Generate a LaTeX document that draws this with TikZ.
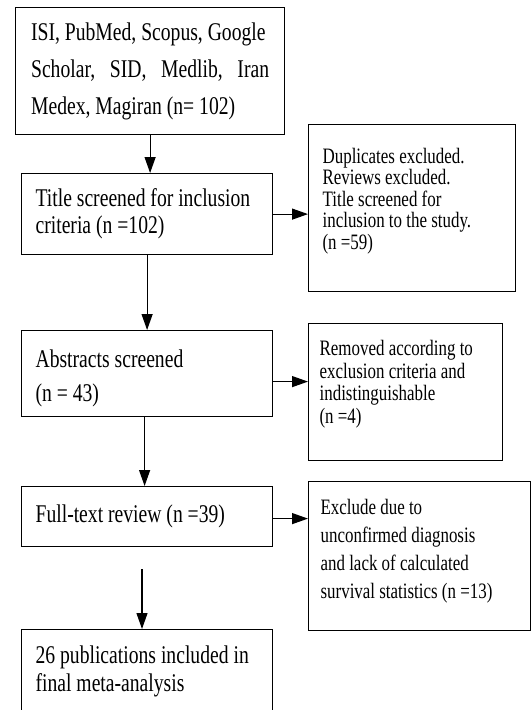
\documentclass[tikz,border=0pt]{standalone}
\usepackage{fontspec}
\setmainfont{Liberation Serif}[FakeStretch=0.77]
\usetikzlibrary{arrows.meta}
\hyphenpenalty=10000
\exhyphenpenalty=10000

\tikzset{
    stage/.style={draw, line width=1.2pt, anchor=north west, align=flush left,
        inner xsep=14pt, inner ysep=0pt, font=\fontsize{25.5}{27}\selectfont},
    note/.style={stage, font=\fontsize{22}{22.5}\selectfont},
    arr/.style={-{Triangle[width=11pt,length=16pt]}, line width=1.2pt}
}

\begin{document}
\begin{tikzpicture}[x=1pt, y=-1pt]

    \useasboundingbox (0,0) rectangle (531,710);

    % Main stages (left column)
    \node[stage, inner xsep=15.5pt, text width=238pt, minimum height=127pt,
        font=\fontsize{25.5}{37}\selectfont] (search) at (15,7)
        {ISI, PubMed, Scopus, Google\\
         Scholar,\hfill SID,\hfill Medlib,\hfill Iran\\
         Medex, Magiran (n= 102)};
    \node[stage, text width=223pt, minimum height=81pt] (title) at (21,173)
        {Title screened for inclusion\\criteria (n =102)};
    \node[stage, text width=223pt, minimum height=86pt, text height=27pt,
        font=\fontsize{25.5}{34}\selectfont] (abstr) at (21,330)
        {Abstracts screened\\(n = 43)};
    \node[stage, text width=223pt, minimum height=60pt] (full) at (21,486)
        {Full-text review (n =39)};
    \node[stage, text width=223pt, minimum height=84pt,
        font=\fontsize{25.5}{28}\selectfont] (final) at (21,629)
        {26 publications included in\\final meta-analysis};

    % Exclusions (right column)
    \node[note, text width=179pt, minimum height=167pt, text depth=105pt,
        font=\fontsize{22}{21.5}\selectfont] (dupl) at (308,124)
        {Duplicates excluded.\\Reviews excluded.\\Title screened for\\
         inclusion to the study.\\(n =59)};
    \node[note, inner xsep=11pt, text width=172pt, minimum height=137pt,
        text depth=88pt] (remov) at (308,323)
        {Removed according to\\exclusion criteria and\\indistinguishable\\(n =4)};
    \node[note, inner xsep=12pt, text width=198pt, minimum height=149pt,
        text depth=99pt, font=\fontsize{22}{28}\selectfont] (excl) at (308,481)
        {Exclude due to\\unconfirmed diagnosis\\and lack of calculated\\
         survival statistics (n =13)};

    % Free start of the last arrow
    \coordinate (gap) at (142,569);

    % Vertical arrows
    \draw[arr] (search.south) -- (search.south |- title.north);
    \draw[arr] (title.south) -- (abstr.north);
    \draw[arr] ([xshift=-2.5pt]abstr.south) -- ([xshift=-2.5pt]full.north);
    \draw[arr] (gap) -- (gap |- final.north);

    % Horizontal arrows
    \draw[arr] (title.east) -- (title.east -| dupl.west);
    \draw[arr] ([yshift=-8pt]abstr.east) -- ([yshift=-8pt]abstr.east -| remov.west);
    \draw[arr] ([yshift=-2pt]full.east) -- ([yshift=-2pt]full.east -| excl.west);

\end{tikzpicture}
\end{document}
